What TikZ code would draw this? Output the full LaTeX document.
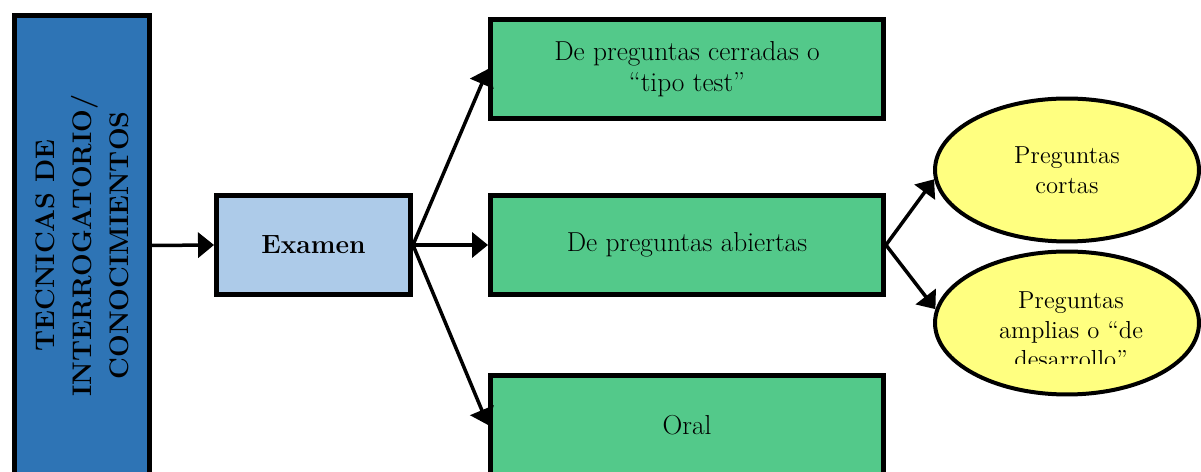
\documentclass[tikz,border=0pt]{standalone}
\usepackage{fontspec}
\usetikzlibrary{arrows.meta,shapes.geometric}
\definecolor{tecblue}{HTML}{2E74B5}
\definecolor{exblue}{HTML}{ADCBE9}
\definecolor{boxgreen}{HTML}{53C98A}
\definecolor{ovyellow}{HTML}{FFFF80}
\begin{document}
\begin{tikzpicture}[x=0.02cm,y=-0.02cm,
    caja/.style={draw=black,line width=0.1cm,fill=boxgreen,minimum width=7.86cm,
      minimum height=1.98cm,align=center,font=\fontsize{15.6}{17.6}\selectfont},
    ovalo/.style={ellipse,draw=black,line width=0.08cm,fill=ovyellow,
      minimum width=5.28cm,minimum height=2.86cm,inner sep=0pt,align=center,
      font=\fontsize{14}{16.8}\selectfont},
    flecha/.style={line width=0.07cm,-{Triangle[length=0.32cm,width=0.5cm]}}]
     \clip (0,0) rectangle (1201,472);

     \node[draw,line width=0.1cm,fill=tecblue,rotate=90,minimum width=9.2cm,
       minimum height=2.7cm,align=center,font=\bfseries\fontsize{15.3}{21}\selectfont]
       (tec) at (82,245.5) {TECNICAS DE\\INTERROGATORIO/\\CONOCIMIENTOS};

     \node[draw,line width=0.1cm,fill=exblue,minimum width=3.88cm,minimum height=1.98cm,
       font=\bfseries\fontsize{15}{19}\selectfont] (ex) at (313.5,245) {Examen};

     \node[caja] (cer) at (687,69) {De preguntas cerradas o\\“tipo test”};
     \node[caja] (abi) at (687,245) {De preguntas abiertas};
     \node[caja] (oral) at (687,425) {Oral};

     \node[ovalo] (e1) at (1067,170) {Preguntas\\cortas};
     \node[ovalo] (e2) at (1067,323) {};
     \begin{scope}
     \clip (940,250) rectangle (1201,364);
     \node[align=center,font=\fontsize{14}{16.8}\selectfont] (e2t) at (1071,330)
       {Preguntas\\amplias o “de\\desarrollo”};
     \end{scope}

     \draw[flecha] (tec.south) -- (ex.west);
     \draw[flecha] (ex.east) -- (cer.west);
     \draw[flecha] (ex.east) -- (abi.west);
     \draw[flecha] (ex.east) -- (oral.west);
     \draw[flecha] (abi.east) -- (e1.184);
     \draw[flecha] (abi.east) -- (e2.174);
\end{tikzpicture}
\end{document}
